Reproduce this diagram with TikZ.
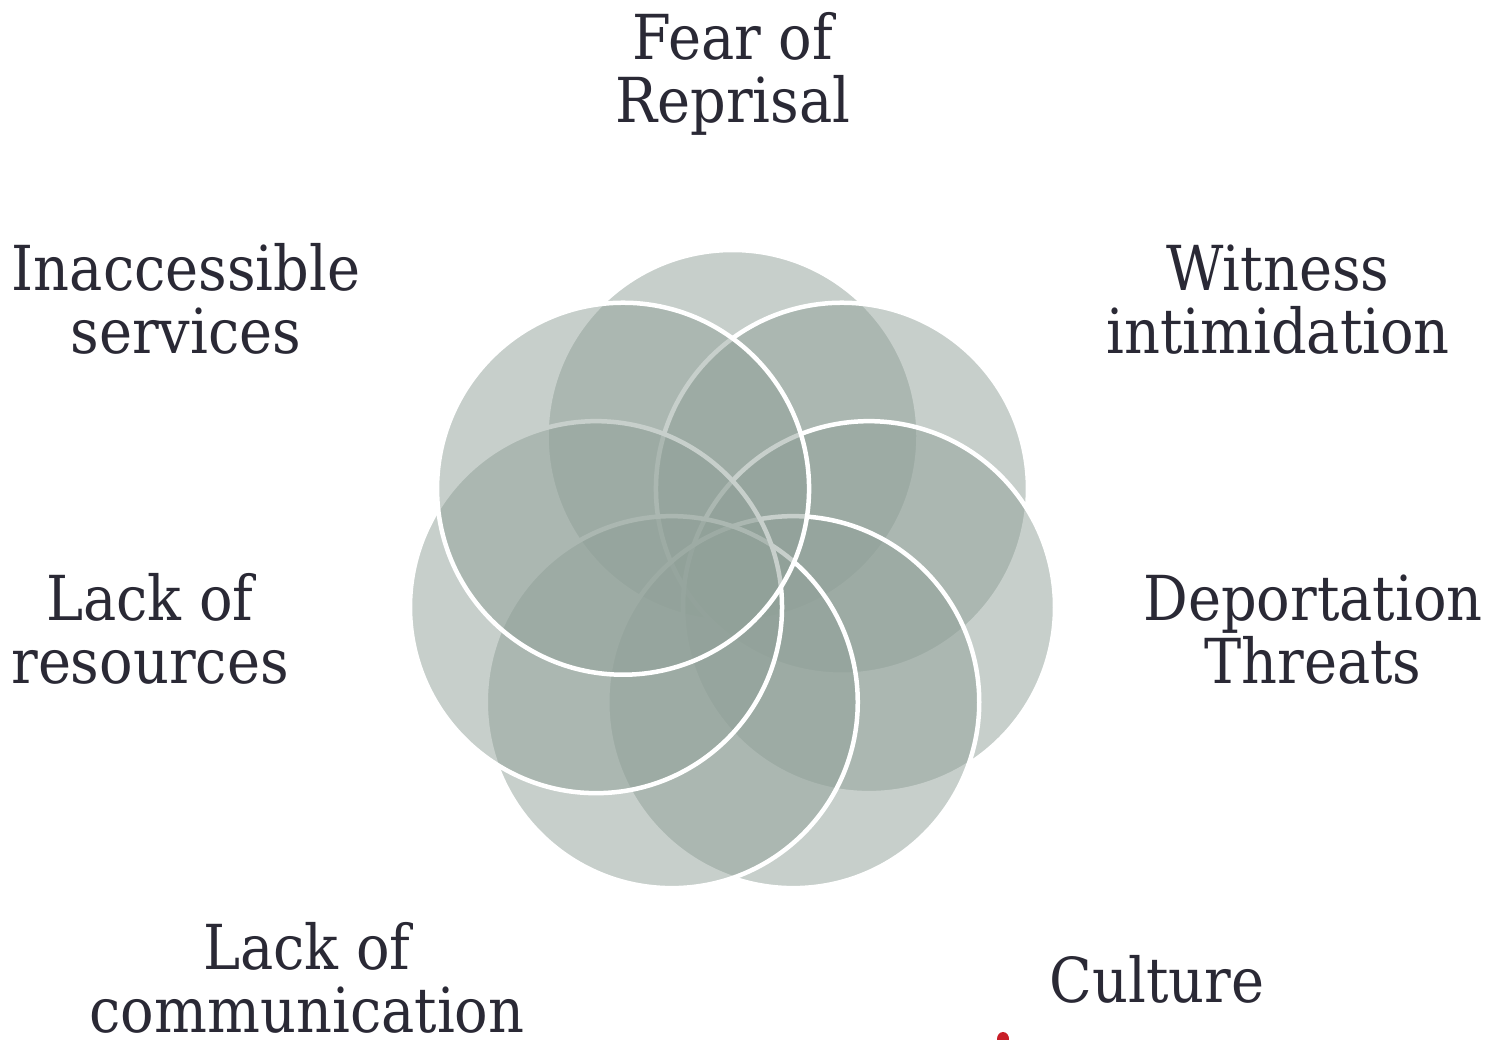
\documentclass[tikz,border=0pt]{standalone}
\usepackage{fontspec}
\usetikzlibrary{calc}
\setmainfont{DejaVu Serif Condensed}
\definecolor{petal}{RGB}{145,161,153}
\definecolor{ink}{RGB}{42,41,53}
\definecolor{redbit}{RGB}{200,30,40}
\tikzset{
  petalc/.style={fill=petal, fill opacity=0.5, draw=white, line width=4.5pt},
  lbl/.style={text=ink, font=\fontsize{62}{63}\selectfont, align=center, anchor=base, inner sep=0pt},
}
\begin{document}
\begin{tikzpicture}[x=1pt,y=-1pt]
\useasboundingbox (0,0) rectangle (1495,1039);
\fill[white] (0,0) rectangle (1495,1039);
\coordinate (ctr) at (732.5,576);
\foreach \k in {0,...,6}{
  \pgfmathsetmacro{\ang}{90-\k*360/7}
  \path[petalc] ($(ctr)+({140*cos(\ang)},{-140*sin(\ang)})$) circle[radius=186];
}
\node[lbl] (fear) at (733,122) {Fear of\\Reprisal};
\node[lbl] (witness) at (1278,353) {Witness\\intimidation};
\node[lbl] (inacc) at (186,353) {Inaccessible\\services};
\node[lbl] (deport) at (1313,683) {Deportation\\Threats};
\node[lbl] (lackres) at (150,683) {Lack of\\resources};
\node[lbl] (lackcom) at (307,1032) {Lack of\\communication};
\node[lbl] (culture) at (1157,1002) {Culture};
\fill[redbit] (1003,1039) ellipse[x radius=6, y radius=7];
\end{tikzpicture}
\end{document}
